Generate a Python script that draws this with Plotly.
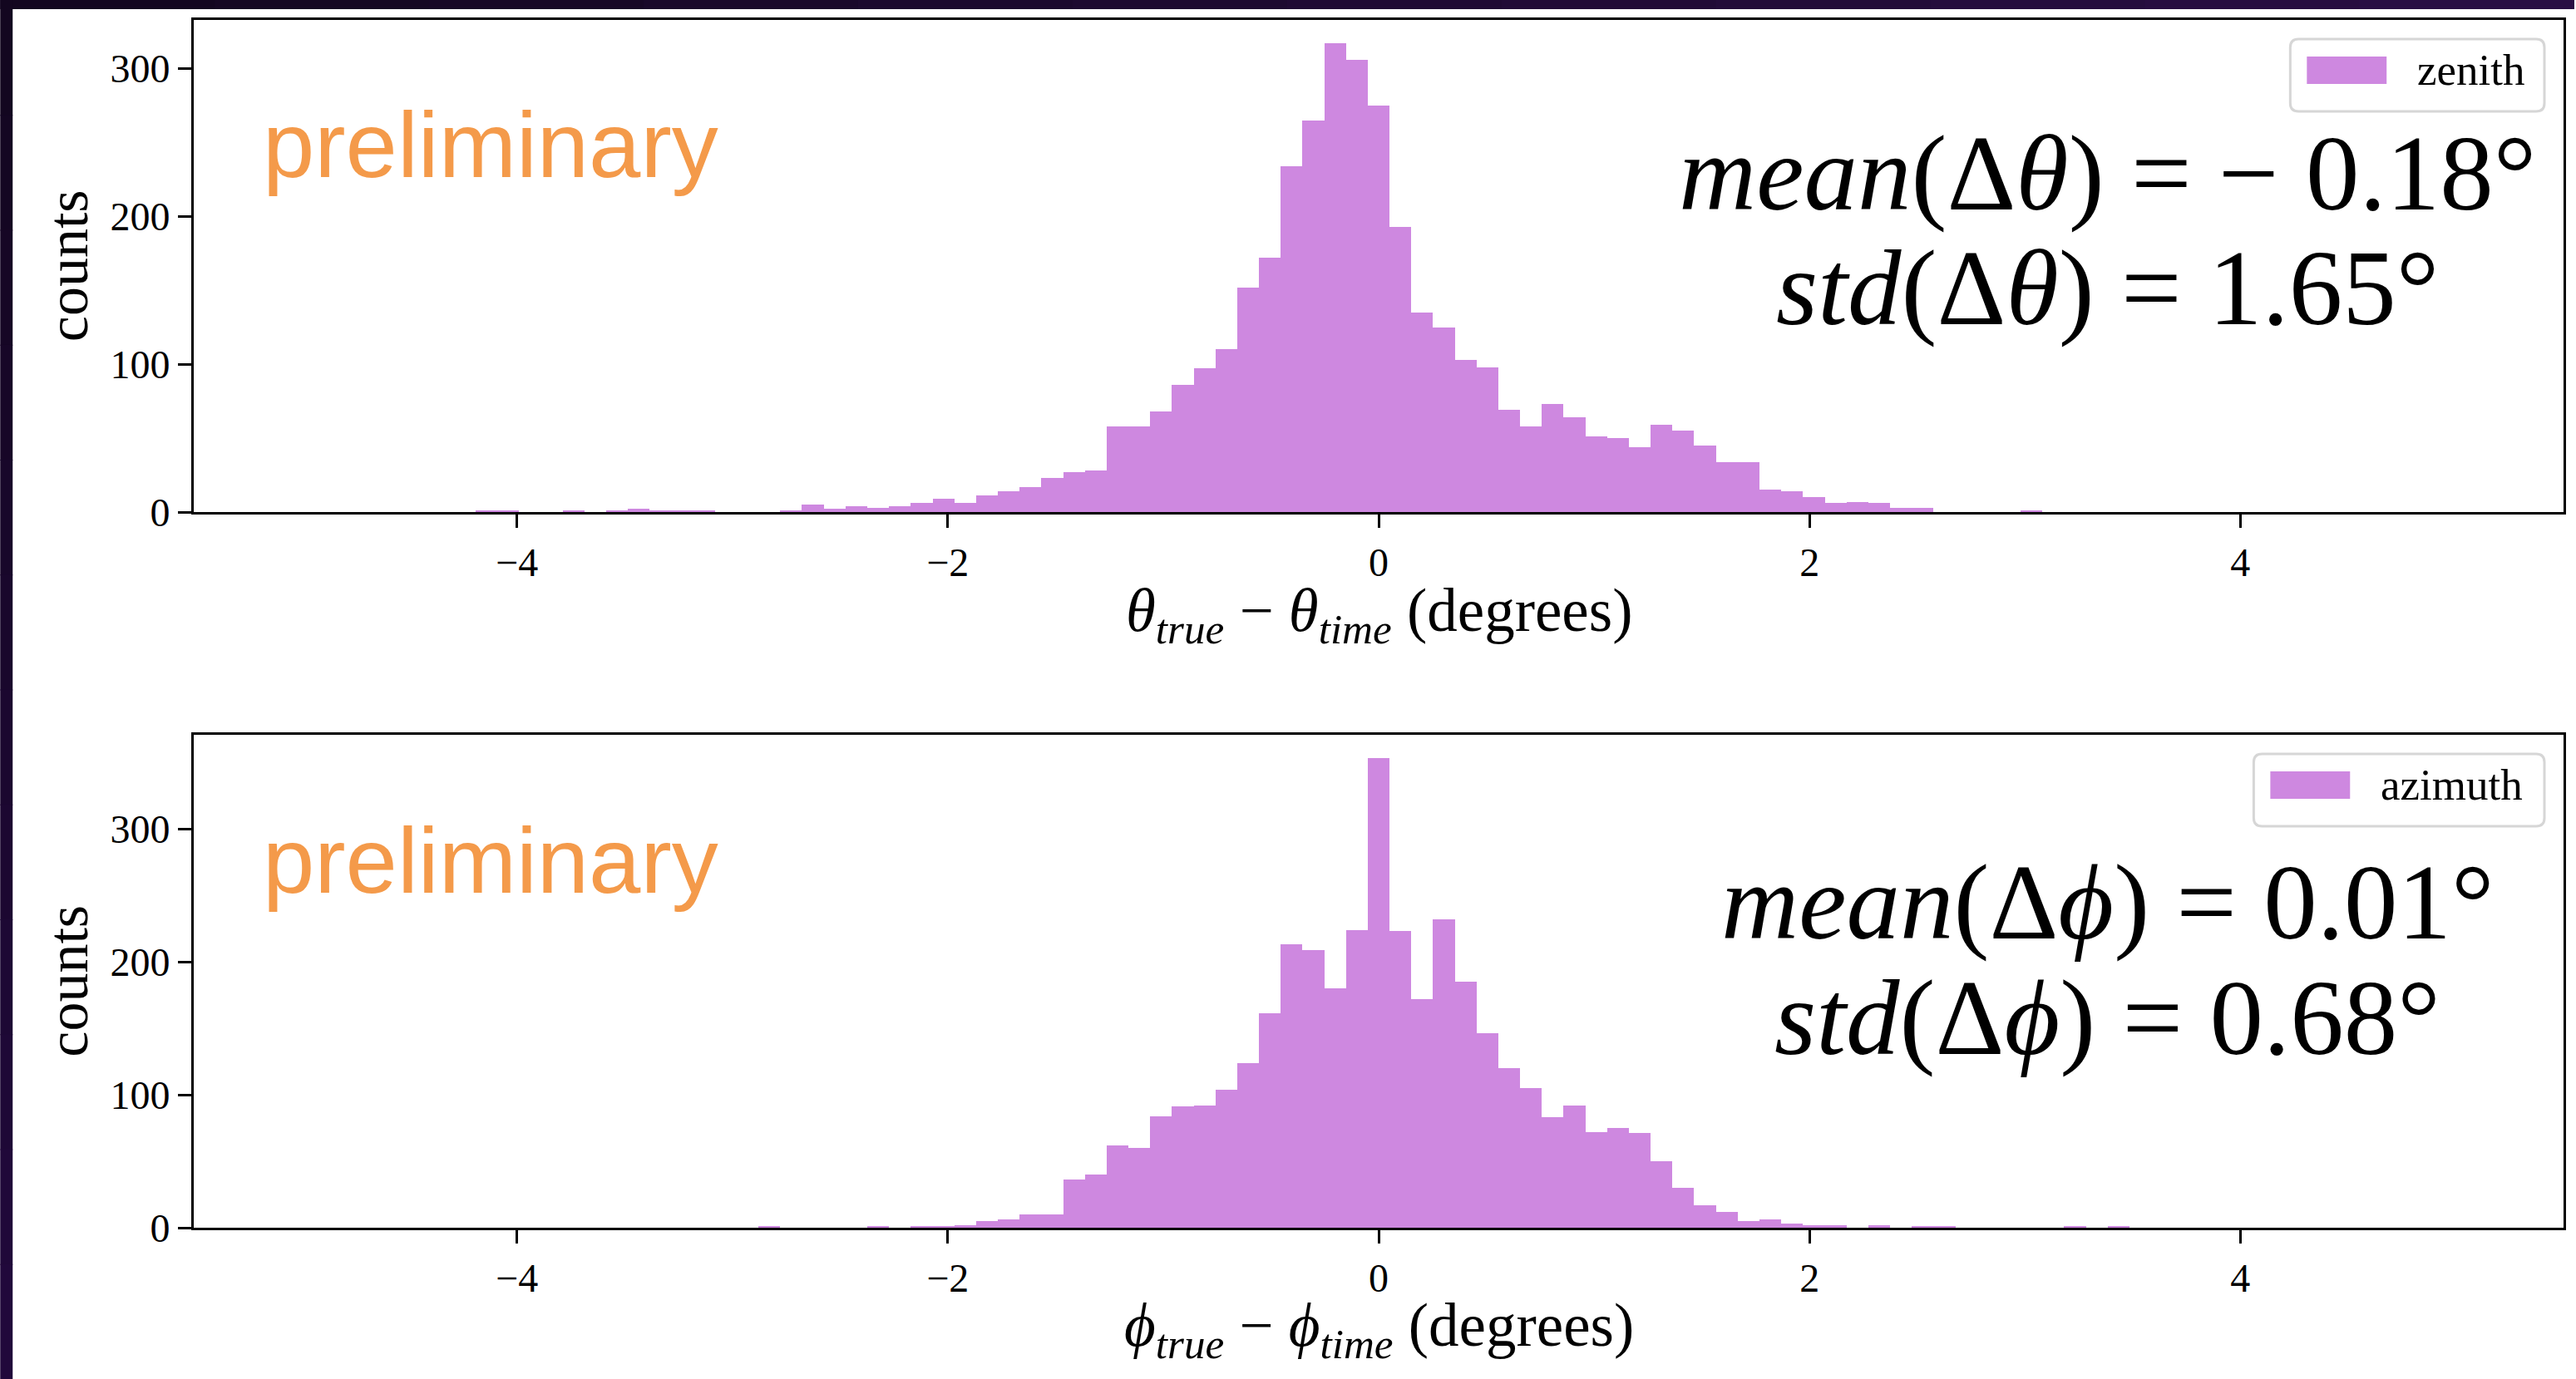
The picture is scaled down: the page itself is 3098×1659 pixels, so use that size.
import numpy as np
import plotly.graph_objects as go

# ---------------------------------------------------------------------------
# Histogram data: 99 bins between -5 and +5 degrees, shared by both panels
# ---------------------------------------------------------------------------
bin_lo, bin_hi, n_bins = -5.0, 5.0, 99

zenith_counts = [
    0, 0, 0, 0, 0, 0, 0, 0, 1, 1,
    0, 0, 1, 0, 1, 2, 1, 1, 1, 0,
    0, 0, 1, 5, 2, 4, 3, 4, 6, 9,
    6, 11, 14, 17, 23, 27, 28, 58, 58, 68,
    86, 97, 110, 152, 172, 234, 265, 317, 306, 275,
    193, 135, 125, 103, 98, 69, 58, 73, 64, 51,
    50, 44, 59, 55, 45, 34, 34, 15, 14, 10,
    6, 7, 6, 3, 3, 0, 0, 0, 0, 1,
    0, 0, 0, 0, 0, 0, 0, 0, 0, 0,
    0, 0, 0, 0, 0, 0, 0, 0, 0,
]

azimuth_counts = [
    0, 0, 0, 0, 0, 0, 0, 0, 0, 0,
    0, 0, 0, 0, 0, 0, 0, 0, 0, 0,
    0, 1, 0, 0, 0, 0, 1, 0, 1, 1,
    2, 5, 6, 10, 10, 36, 40, 62, 60, 84,
    91, 92, 104, 124, 161, 213, 209, 180, 224, 353,
    223, 172, 232, 185, 146, 120, 105, 83, 92, 72,
    75, 71, 50, 30, 17, 12, 5, 6, 3, 2,
    2, 0, 2, 0, 1, 1, 0, 0, 0, 0,
    0, 1, 0, 1, 0, 0, 0, 0, 0, 0,
    0, 0, 0, 0, 0, 0, 0, 0, 0,
]

series_names = ["zenith", "azimuth"]
x_tick_vals = [-4, -2, 0, 2, 4]
x_tick_text = ["\u22124", "\u22122", "0", "2", "4"]
y_tick_vals = [0, 100, 200, 300]
y_tick_text = ["0", "100", "200", "300"]

stats_lines = [
    ["<i>mean</i>(\u0394<i>\u03b8</i>) = \u2212 0.18\u00b0",
     "<i>std</i>(\u0394<i>\u03b8</i>) = 1.65\u00b0"],
    ["<i>mean</i>(\u0394<i>\u03d5</i>) = 0.01\u00b0",
     "<i>std</i>(\u0394<i>\u03d5</i>) = 0.68\u00b0"],
]
x_titles = [
    "<i>\u03b8</i><sub><i>true</i></sub> \u2212 <i>\u03b8</i><sub><i>time</i></sub> (degrees)",
    "<i>\u03d5</i><sub><i>true</i></sub> \u2212 <i>\u03d5</i><sub><i>time</i></sub> (degrees)",
]
y_title = "counts"
watermark = "preliminary"

# ---------------------------------------------------------------------------
# Page geometry and style
# ---------------------------------------------------------------------------
FIG_W, FIG_H = 3098, 1659
M_L, M_R, M_T, M_B = 233, 12, 24, 182
PW = FIG_W - M_L - M_R
PH = FIG_H - M_T - M_B

SERIF = "Liberation Serif"
SANS = "Liberation Sans"
BAR_COLOR = "#CE88E0"
ORANGE = "#F49A4A"


def px(x):
    """pixel column -> paper x"""
    return (x - M_L) / PW


def py(y):
    """pixel row (from top) -> paper y"""
    return (FIG_H - M_B - y) / PH


# panel pixel extents: (top, bottom)
panels = [(24, 616), (884, 1477)]

edges = np.linspace(bin_lo, bin_hi, n_bins + 1)
centers = 0.5 * (edges[:-1] + edges[1:])
widths = np.diff(edges)

fig = go.Figure()

all_counts = [zenith_counts, azimuth_counts]
for i, counts in enumerate(all_counts):
    sfx = "" if i == 0 else "2"
    fig.add_trace(go.Bar(
        x=centers, y=counts, width=widths, name=series_names[i],
        marker=dict(color=BAR_COLOR, line=dict(width=0)),
        xaxis="x" + sfx, yaxis="y" + sfx, showlegend=False,
    ))

axis_common = dict(
    showline=True, linecolor="black", linewidth=3, mirror=True,
    ticks="outside", ticklen=16, tickwidth=3, tickcolor="black",
    showgrid=False, zeroline=False,
    tickfont=dict(family=SERIF, size=48, color="black"),
)

layout = dict(
    width=FIG_W, height=FIG_H,
    margin=dict(l=M_L, r=M_R, t=M_T, b=M_B, pad=0),
    paper_bgcolor="white", plot_bgcolor="white",
    bargap=0, barmode="overlay", showlegend=False,
)
for i, (top, bot) in enumerate(panels):
    sfx = "" if i == 0 else "2"
    ymax = max(all_counts[i]) * 1.05
    layout["xaxis" + sfx] = dict(
        axis_common, range=[bin_lo - 0.05 * (bin_hi - bin_lo), bin_hi + 0.05 * (bin_hi - bin_lo)],
        tickvals=x_tick_vals, ticktext=x_tick_text,
        anchor="y" + sfx, domain=[0, 1],
    )
    layout["yaxis" + sfx] = dict(
        axis_common, range=[0, ymax],
        tickvals=y_tick_vals, ticktext=y_tick_text,
        anchor="x" + sfx, domain=[py(bot), py(top)],
    )
fig.update_layout(**layout)

annotations = []
shapes = []

# text positions per panel (pixel rows of the text centres)
stat_size = 129
for i, (top, bot) in enumerate(panels):
    off = top - panels[0][0]
    # watermark
    annotations.append(dict(
        text=watermark, xref="paper", yref="paper",
        x=px(314), y=py(175 + off), xanchor="left", yanchor="middle",
        showarrow=False, font=dict(family=SANS, size=112, color=ORANGE),
    ))
    # summary statistics
    for j, line in enumerate(stats_lines[i]):
        annotations.append(dict(
            text=line, xref="paper", yref="paper",
            x=px(2537), y=py(208 + 138 * j + off + (18 if i == 1 else 0)),
            xanchor="center", yanchor="middle",
            showarrow=False, font=dict(family=SERIF, size=stat_size, color="black"),
        ))
    # x-axis title
    annotations.append(dict(
        text=x_titles[i], xref="paper", yref="paper",
        x=px((M_L + FIG_W - M_R) / 2), y=py(740 + off),
        xanchor="center", yanchor="middle",
        showarrow=False, font=dict(family=SERIF, size=73, color="black"),
    ))
    # y-axis title
    annotations.append(dict(
        text=y_title, xref="paper", yref="paper",
        x=px(81), y=py((top + bot) / 2),
        xanchor="center", yanchor="middle", textangle=-90,
        showarrow=False, font=dict(family=SERIF, size=70, color="black"),
    ))

    # legend box (rounded), swatch and label
    bx0, bx1 = (2757, 3063) if i == 0 else (2713, 3063)
    by0, by1 = top + 23, top + 110
    r = 10
    pts = [
        ("M", bx0 + r, by0), ("L", bx1 - r, by0), ("Q", bx1, by0, bx1, by0 + r),
        ("L", bx1, by1 - r), ("Q", bx1, by1, bx1 - r, by1),
        ("L", bx0 + r, by1), ("Q", bx0, by1, bx0, by1 - r),
        ("L", bx0, by0 + r), ("Q", bx0, by0, bx0 + r, by0),
    ]
    path = ""
    for p in pts:
        cmd, coords = p[0], p[1:]
        xy = []
        for k in range(0, len(coords), 2):
            xy.append(f"{px(coords[k]):.6f},{py(coords[k + 1]):.6f}")
        path += cmd + " " + " ".join(xy) + " "
    shapes.append(dict(type="path", path=path + "Z", xref="paper", yref="paper",
                       line=dict(color="#D6D6D6", width=3), fillcolor="white",
                       layer="above"))
    sx0 = bx0 + 20
    shapes.append(dict(type="rect", xref="paper", yref="paper",
                       x0=px(sx0), x1=px(sx0 + 96), y0=py(by0 + 21), y1=py(by0 + 54),
                       line=dict(width=0), fillcolor=BAR_COLOR, layer="above"))
    annotations.append(dict(
        text=series_names[i], xref="paper", yref="paper",
        x=px(sx0 + 96 + 35), y=py(by0 + 37), xanchor="left", yanchor="middle",
        showarrow=False, font=dict(family=SERIF, size=53, color="black"),
    ))

# dark frame along the top and left edges of the page
n_seg = 12
c0 = np.array([0x13, 0x06, 0x1F])
c_top = np.array([0x2A, 0x0F, 0x45])
c_left = np.array([0x22, 0x09, 0x3D])
for s in range(n_seg):
    t = (s + 0.5) / n_seg
    ct = (c0 + (c_top - c0) * t).astype(int)
    cl = (c0 + (c_left - c0) * t).astype(int)
    shapes.append(dict(type="rect", xref="paper", yref="paper",
                       x0=px(FIG_W * s / n_seg), x1=px(FIG_W * (s + 1) / n_seg + 1),
                       y0=py(0), y1=py(11), line=dict(width=0),
                       fillcolor="rgb(%d,%d,%d)" % tuple(ct), layer="above"))
    shapes.append(dict(type="rect", xref="paper", yref="paper",
                       x0=px(0), x1=px(15),
                       y0=py(FIG_H * s / n_seg), y1=py(FIG_H * (s + 1) / n_seg + 1),
                       line=dict(width=0),
                       fillcolor="rgb(%d,%d,%d)" % tuple(cl), layer="above"))

fig.update_layout(annotations=annotations, shapes=shapes)
fig.write_html("out.html")
